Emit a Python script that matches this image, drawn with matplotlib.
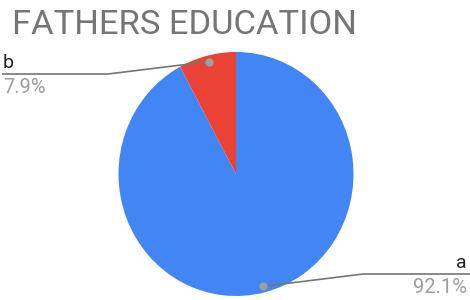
import numpy as np
import matplotlib.pyplot as plt

plt.rcParams['font.family'] = ['Roboto', 'DejaVu Sans']

# data
labels = ["a", "b"]
values = [92.1, 7.9]
colors = ["#4285F4", "#EA4335"]
title = "FATHERS EDUCATION"

W, H = 470, 300
fig = plt.figure(figsize=(W / 100, H / 100), dpi=100)

# pie box in pixels (left, top, right, bottom)
pl, pt, pr, pb = 118.5, 52, 353.5, 296
cx, cy = (pl + pr) / 2, (pt + pb) / 2
rx, ry = (pr - pl) / 2, (pb - pt) / 2

ax = fig.add_axes([pl / W, (H - pb) / H, (pr - pl) / W, (pb - pt) / H])
wedges, _ = ax.pie(values, colors=colors, startangle=90, counterclock=False,
                   wedgeprops=dict(linewidth=0))
ax.set_aspect('auto')
ax.set_xlim(-1, 1)
ax.set_ylim(-1, 1)
ax.axis('off')

# overlay in pixel coords
ov = fig.add_axes([0, 0, 1, 1])
ov.set_xlim(0, W)
ov.set_ylim(H, 0)
ov.axis('off')

ov.text(12, 34, title, fontsize=24.8, color="#757575", ha='left', va='baseline')

line_c = "#757575"
# label layout: (elbow x, line y, end x, text x, ha)
layout = {
    "b": (108, 74, 2, 3, 'left'),
    "a": (363, 274, W, 467, 'right'),
}
total = sum(values)
for w, lab, v in zip(wedges, labels, values):
    mid = np.deg2rad((w.theta1 + w.theta2) / 2)
    dx = cx + 0.95 * rx * np.cos(mid)
    dy = cy - 0.95 * ry * np.sin(mid)
    ex, ly, endx, tx, ha = layout[lab]
    ov.plot([dx, ex, endx], [dy, ly, ly], color=line_c, lw=1.2, solid_capstyle='butt')
    ov.plot(dx, dy, 'o', ms=6, color="#9E9E9E", mec='none')
    ov.text(tx, ly - 6, lab, fontsize=14, color="#222222", ha=ha, va='baseline')
    ov.text(tx, ly + 19, f"{v / total * 100:.1f}%", fontsize=14.5, color="#9E9E9E",
            ha=ha, va='baseline')

fig.savefig("out.png", dpi=100)
